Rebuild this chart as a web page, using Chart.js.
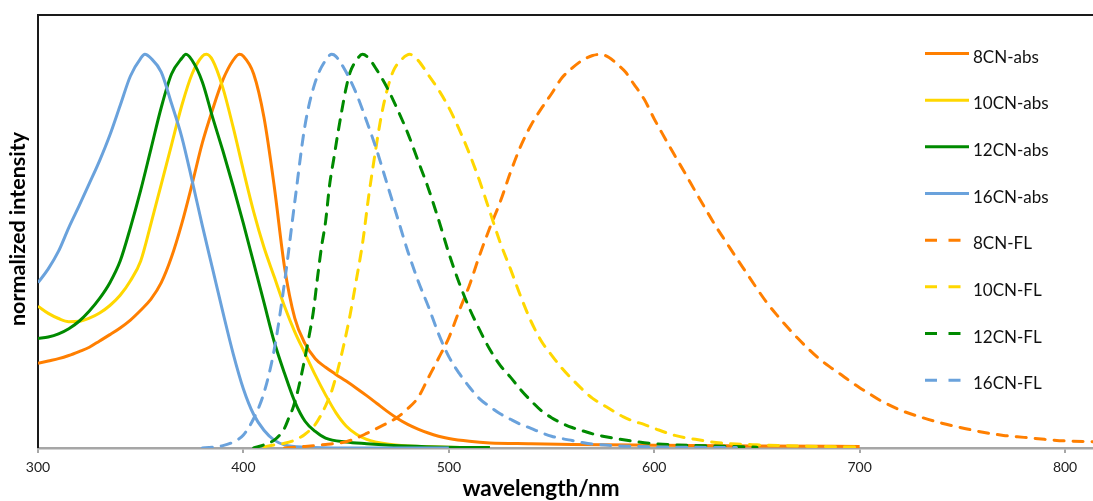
<!DOCTYPE html>
<html>
<head>
<meta charset="utf-8">
<script src="https://cdn.jsdelivr.net/npm/chart.js@4/dist/chart.umd.min.js"></script>
<style>
  html, body { margin: 0; padding: 0; background: #fff; }
  #wrap { width: 1093px; height: 501px; position: relative; }
</style>
</head>
<body>
<div id="wrap"><canvas id="c"></canvas></div>
<script>
// Absorption spectra (solid lines): wavelength (nm) and normalized intensity
const abs8Wl  = [300,305,310,315,320,325,330,335,340,345,350,355,360,365,370,375,380,385,390,395,398,400,405,410,415,420,425,430,435,440,445,450,455,460,465,470,475,480,485,490,495,500,510,520,540,560,600,650,700];
const abs8Val = [0.215,0.221,0.227,0.235,0.245,0.256,0.272,0.288,0.305,0.325,0.35,0.378,0.42,0.485,0.57,0.67,0.775,0.86,0.935,0.985,1.0,0.995,0.95,0.84,0.665,0.46,0.33,0.265,0.227,0.205,0.187,0.17,0.152,0.133,0.113,0.093,0.075,0.06,0.048,0.038,0.03,0.024,0.017,0.013,0.011,0.009,0.007,0.005,0.004];

const abs10Wl  = [300,305,310,315,320,325,330,335,340,345,350,355,360,365,370,375,380,382,385,390,395,400,405,410,415,420,425,430,435,440,445,450,455,460,470,480,500,520];
const abs10Val = [0.36,0.342,0.329,0.321,0.322,0.33,0.343,0.362,0.388,0.425,0.475,0.57,0.67,0.77,0.87,0.95,0.995,1.0,0.985,0.915,0.815,0.705,0.6,0.51,0.435,0.36,0.295,0.24,0.185,0.135,0.09,0.056,0.035,0.022,0.01,0.005,0.002,0.001];

const abs12Wl  = [300,305,310,315,320,325,330,335,340,345,350,355,360,365,370,372,375,380,385,390,395,400,405,410,415,420,425,430,435,440,450,460,480,500,520];
const abs12Val = [0.278,0.282,0.29,0.303,0.322,0.348,0.38,0.42,0.475,0.56,0.655,0.76,0.865,0.95,0.99,1.0,0.985,0.93,0.84,0.755,0.665,0.57,0.47,0.37,0.27,0.19,0.118,0.068,0.042,0.025,0.015,0.011,0.005,0.002,0.001];

const abs16Wl  = [300,305,310,315,320,325,330,335,340,345,350,352,355,360,365,370,375,380,385,390,395,400,405,410,415,420,430,450,500];
const abs16Val = [0.42,0.455,0.5,0.56,0.615,0.672,0.73,0.795,0.87,0.945,0.99,1.0,0.99,0.955,0.875,0.79,0.68,0.565,0.455,0.345,0.24,0.15,0.085,0.045,0.02,0.008,0.002,0.0,0.0];

// Fluorescence spectra (dashed lines)
const fl8Wl  = [420,430,440,450,455,460,465,470,475,480,485,490,495,500,505,510,515,520,525,530,535,540,545,550,555,560,565,570,574,578,582,586,590,595,600,605,610,615,620,625,630,635,640,645,650,655,660,665,670,675,680,685,690,695,700,705,710,720,730,740,750,760,770,780,790,800,814];
const fl8Val = [0.0,0.004,0.009,0.016,0.025,0.037,0.05,0.063,0.078,0.1,0.128,0.178,0.228,0.28,0.348,0.413,0.49,0.56,0.625,0.7,0.767,0.82,0.862,0.9,0.94,0.965,0.985,0.997,1.0,0.992,0.975,0.955,0.925,0.887,0.836,0.789,0.743,0.698,0.652,0.607,0.563,0.523,0.483,0.444,0.405,0.368,0.336,0.306,0.278,0.252,0.228,0.208,0.19,0.171,0.153,0.137,0.121,0.096,0.078,0.063,0.051,0.04,0.032,0.027,0.022,0.018,0.016];

const fl10Wl  = [410,415,420,425,430,435,440,443,446,449,452,455,458,461,464,467,470,473,477,481,485,490,495,500,505,510,515,520,525,530,535,540,545,550,555,560,565,570,575,580,585,590,595,600,610,620,630,640,650,670,700];
const fl10Val = [0.003,0.008,0.012,0.02,0.035,0.06,0.107,0.145,0.2,0.265,0.34,0.428,0.52,0.64,0.745,0.84,0.91,0.958,0.987,1.0,0.985,0.948,0.91,0.865,0.81,0.748,0.678,0.6,0.522,0.455,0.385,0.322,0.272,0.236,0.203,0.175,0.149,0.126,0.11,0.094,0.079,0.068,0.06,0.05,0.032,0.022,0.014,0.01,0.008,0.005,0.002];

const fl12Wl  = [405,410,415,418,420,422,424,426,428,430,432,434,436,438,440,442,444,446,448,450,452,455,458,461,465,470,475,480,485,490,495,500,505,510,515,520,525,530,535,540,545,550,555,560,565,570,575,580,590,600,610,630,650];
const fl12Val = [0.0,0.008,0.02,0.035,0.05,0.075,0.1,0.135,0.18,0.23,0.285,0.345,0.43,0.51,0.575,0.67,0.735,0.8,0.86,0.915,0.955,0.985,1.0,0.99,0.96,0.915,0.86,0.8,0.73,0.66,0.58,0.495,0.42,0.355,0.3,0.25,0.21,0.18,0.148,0.12,0.095,0.077,0.063,0.052,0.044,0.036,0.03,0.025,0.017,0.011,0.008,0.005,0.002];

const fl16Wl  = [380,390,395,400,405,410,415,420,425,430,435,440,443,445,450,455,460,465,470,475,480,485,490,495,500,505,510,515,520,525,530,535,540,545,550,555,560,565,570,580,600,640];
const fl16Val = [0.0,0.006,0.015,0.033,0.075,0.14,0.25,0.42,0.625,0.82,0.93,0.985,1.0,0.995,0.955,0.9,0.83,0.755,0.67,0.585,0.5,0.425,0.36,0.29,0.232,0.19,0.155,0.125,0.105,0.087,0.073,0.06,0.05,0.039,0.03,0.024,0.019,0.014,0.01,0.006,0.003,0.001];

const seriesNames = ['8CN-abs','10CN-abs','12CN-abs','16CN-abs','8CN-FL','10CN-FL','12CN-FL','16CN-FL'];
const xTickValues = [300,400,500,600,700,800];
const xTitle = 'wavelength/nm';
const yTitle = 'normalized intensity';

const ORANGE = '#FF7F00', YELLOW = '#FFD700', GREEN = '#008A00', BLUE = '#6AA2DC';
const seriesColors = [ORANGE, YELLOW, GREEN, BLUE, ORANGE, YELLOW, GREEN, BLUE];
const wlLists  = [abs8Wl, abs10Wl, abs12Wl, abs16Wl, fl8Wl, fl10Wl, fl12Wl, fl16Wl];
const valLists = [abs8Val, abs10Val, abs12Val, abs16Val, fl8Val, fl10Val, fl12Val, fl16Val];

const DASH = [10, 9];

const datasets = seriesNames.map((name, i) => ({
  label: name,
  data: wlLists[i].map((w, k) => ({ x: w, y: valLists[i][k] })),
  borderColor: seriesColors[i],
  backgroundColor: seriesColors[i],
  borderWidth: 3,
  borderDash: i >= 4 ? DASH : [],
  borderCapStyle: i >= 4 ? 'round' : 'butt',
  borderJoinStyle: 'round',
  pointRadius: 0,
  fill: false,
  cubicInterpolationMode: 'monotone',
  order: 8 - i
}));

// Frame (top and left edges of the plot area), axis titles and the legend on the right
const decorations = {
  id: 'decorations',
  beforeDatasetsDraw(chart) {
    const { ctx, chartArea: a } = chart;
    ctx.save();
    ctx.strokeStyle = '#1a1a1a';
    ctx.lineWidth = 2;
    ctx.beginPath();
    ctx.moveTo(a.left, a.bottom);
    ctx.lineTo(a.left, a.top);
    ctx.lineTo(chart.width, a.top);
    ctx.stroke();
    ctx.restore();
  },
  afterDraw(chart) {
    const { ctx } = chart;
    ctx.save();
    // axis titles
    ctx.fillStyle = '#000';
    ctx.font = 'bold 22.5px Lato';
    ctx.textAlign = 'center';
    ctx.textBaseline = 'middle';
    ctx.fillText(xTitle, 541, 489);
    ctx.save();
    ctx.translate(18, 229);
    ctx.rotate(-Math.PI / 2);
    ctx.font = 'bold 21.5px Lato';
    ctx.fillText(yTitle, 0, 0);
    ctx.restore();

    // legend
    ctx.font = '17px Lato';
    ctx.textAlign = 'left';
    ctx.textBaseline = 'alphabetic';
    ctx.fillStyle = '#111';
    chart.data.datasets.forEach((ds, i) => {
      const y = 53.5 + i * 46.67;
      ctx.strokeStyle = ds.borderColor;
      ctx.lineWidth = 3;
      ctx.beginPath();
      if (ds.borderDash.length) {
        ctx.setLineDash([12, 11.5]);
        ctx.moveTo(925, y);
        ctx.lineTo(961, y);
      } else {
        ctx.setLineDash([]);
        ctx.moveTo(925, y);
        ctx.lineTo(969, y);
      }
      ctx.stroke();
      ctx.fillText(ds.label, 973, y + 9);
    });
    ctx.restore();
  }
};

new Chart(document.getElementById('c'), {
  type: 'line',
  data: { datasets },
  plugins: [decorations],
  options: {
    responsive: true,
    maintainAspectRatio: false,
    animation: false,
    layout: { padding: { top: 15, right: 0, left: 0, bottom: 0 } },
    plugins: { legend: { display: false }, tooltip: { enabled: false } },
    scales: {
      x: {
        type: 'linear',
        min: 300,
        max: 813.6,
        afterBuildTicks: s => { s.ticks = xTickValues.map(v => ({ value: v })); },
        afterFit: s => { s.height = 53; },
        ticks: { font: { family: 'Lato', size: 14 }, color: '#222', padding: 6, maxRotation: 0 },
        grid: { drawOnChartArea: false, drawTicks: true, tickLength: 5, color: '#A6A6A6', lineWidth: 2 },
        border: { display: true, color: '#A6A6A6', width: 2.5 },
        title: { display: false }
      },
      y: {
        type: 'linear',
        min: 0,
        max: 1.1,
        afterFit: s => { s.width = 38; },
        ticks: { display: false },
        grid: { display: false, drawTicks: false },
        border: { display: false },
        title: { display: false }
      }
    }
  }
});
</script>
</body>
</html>
